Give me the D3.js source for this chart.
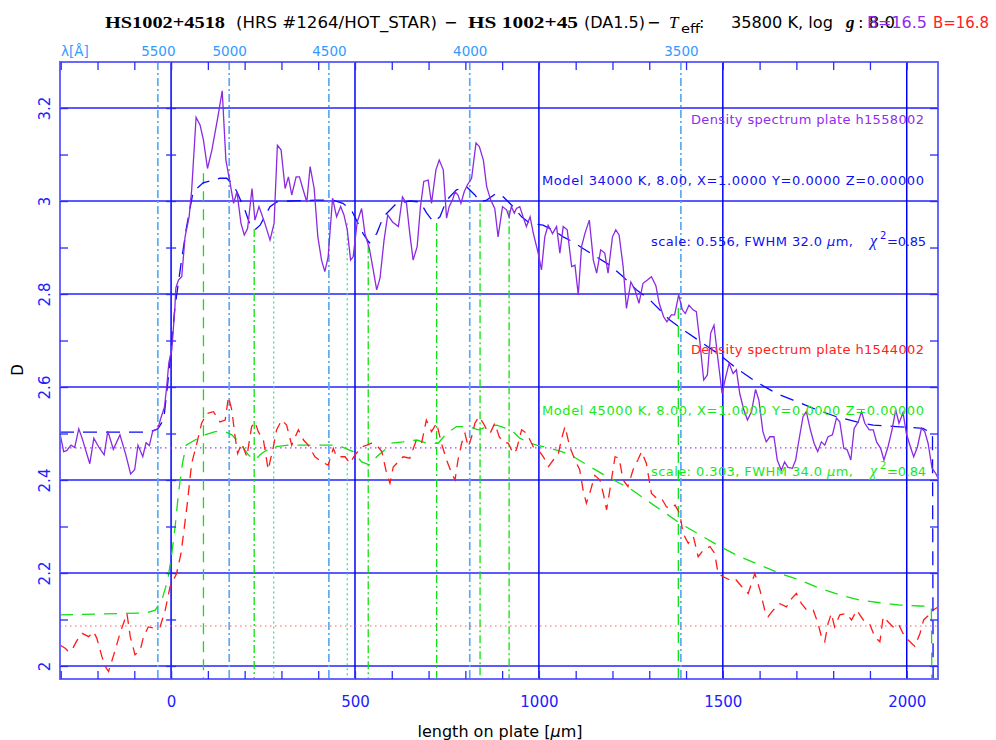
<!DOCTYPE html>
<html><head><meta charset="utf-8">
<script src="https://cdn.jsdelivr.net/npm/d3@7"></script>
<style>body{margin:0;background:#fff}svg{display:block}</style>
</head><body>
<svg id="c" width="996" height="740"></svg>
<script>
// ---------------- DATA ----------------
// Density spectrum plate h1558002 : [length on plate (µm), D]
const purpleSpec = [[-302,2.50],[-292,2.461],[-284,2.463],[-272,2.475],[-262,2.47],[-251,2.51],[-242,2.49],[-221,2.435],[-210,2.49],[-196,2.47],[-182,2.454],[-172,2.505],[-157,2.466],[-139,2.497],[-123,2.454],[-110,2.413],[-99,2.422],[-90,2.475],[-77,2.45],[-68,2.48],[-59,2.474],[-50,2.505],[-36,2.51],[-29,2.53],[-18,2.557],[-12,2.60],[-6,2.653],[2,2.68],[10,2.766],[13,2.813],[20,2.83],[29,2.837],[38,2.923],[49,2.966],[56,3.024],[68,3.18],[79,3.163],[88,3.131],[99,3.07],[111,3.11],[127,3.18],[139,3.237],[149,3.088],[159,3.045],[170,2.995],[179,3.02],[190,2.952],[199,2.927],[208,2.941],[220,3.027],[228,2.959],[239,2.988],[255,2.952],[269,2.916],[280,2.952],[289,3.12],[299,3.11],[310,3.027],[319,3.052],[328,3.013],[340,3.052],[349,3.052],[358,3.027],[369,2.998],[378,3.074],[389,3.027],[399,2.923],[409,2.873],[418,2.848],[427,2.88],[439,3.006],[450,2.966],[461,2.988],[470,2.97],[479,2.938],[488,2.873],[495,2.88],[506,2.955],[518,2.984],[527,2.93],[539,2.898],[548,2.859],[559,2.809],[568,2.834],[579,2.916],[589,2.97],[602,2.955],[618,2.945],[629,3.009],[640,2.995],[649,2.93],[658,2.873],[669,2.902],[678,2.988],[687,3.042],[699,3.045],[708,2.995],[720,3.067],[729,3.088],[740,3.067],[749,2.963],[756,2.988],[765,3.002],[772,3.02],[780,3.013],[788,2.995],[797,3.02],[805,3.034],[817,3.049],[829,3.125],[838,3.117],[849,3.088],[858,3.031],[869,3.002],[880,2.984],[889,2.923],[901,2.988],[912,2.981],[919,2.966],[925,2.988],[933,2.974],[939,2.984],[948,2.988],[957,2.966],[966,2.945],[976,2.966],[985,2.93],[998,2.888],[1007,2.852],[1016,2.923],[1025,2.948],[1037,2.93],[1048,2.945],[1057,2.888],[1066,2.945],[1077,2.938],[1089,2.859],[1098,2.862],[1107,2.798],[1116,2.902],[1125,2.93],[1137,2.959],[1148,2.873],[1157,2.845],[1168,2.895],[1179,2.888],[1188,2.845],[1200,2.923],[1209,2.938],[1218,2.927],[1229,2.859],[1238,2.769],[1250,2.826],[1261,2.809],[1272,2.78],[1283,2.823],[1295,2.83],[1306,2.837],[1318,2.818],[1327,2.78],[1339,2.751],[1348,2.74],[1360,2.755],[1369,2.755],[1380,2.798],[1390,2.766],[1398,2.758],[1408,2.776],[1419,2.766],[1428,2.762],[1437,2.701],[1448,2.615],[1458,2.626],[1467,2.716],[1476,2.733],[1487,2.658],[1498,2.586],[1508,2.622],[1517,2.651],[1528,2.629],[1537,2.637],[1546,2.586],[1557,2.551],[1567,2.529],[1578,2.547],[1589,2.595],[1598,2.572],[1609,2.504],[1618,2.482],[1628,2.493],[1639,2.493],[1648,2.443],[1659,2.421],[1668,2.439],[1677,2.427],[1689,2.425],[1698,2.443],[1707,2.486],[1718,2.536],[1727,2.547],[1738,2.508],[1748,2.479],[1758,2.461],[1768,2.482],[1777,2.475],[1786,2.493],[1798,2.497],[1809,2.533],[1818,2.525],[1829,2.468],[1838,2.465],[1848,2.443],[1857,2.511],[1868,2.525],[1877,2.547],[1886,2.522],[1898,2.508],[1909,2.508],[1918,2.482],[1929,2.468],[1938,2.443],[1949,2.471],[1960,2.508],[1970,2.551],[1979,2.522],[1990,2.545],[1999,2.50],[2010,2.471],[2019,2.45],[2029,2.471],[2040,2.511],[2049,2.504],[2058,2.479],[2069,2.425],[2079,2.414],[2085,2.404]];

// Model 34000 K fit to h1558002
const blueModel = [[-302,2.503],[-60,2.503],[-36,2.51],[-20,2.53],[-5,2.637],[10,2.768],[27,2.865],[42,2.944],[60,3.02],[87,3.039],[133,3.049],[151,3.049],[165,3.039],[179,3.02],[201,2.98],[215,2.948],[228,2.938],[242,2.948],[269,2.988],[287,2.998],[323,3.0],[394,3.002],[440,3.002],[467,2.995],[490,2.981],[522,2.93],[539,2.91],[559,2.93],[577,2.966],[613,2.995],[649,3.0],[677,2.998],[695,2.974],[713,2.955],[731,2.966],[749,3.002],[776,3.024],[803,3.031],[826,3.013],[840,2.998],[858,3.002],[885,3.017],[903,3.009],[930,2.988],[953,2.966],[976,2.952],[1011,2.948],[1038,2.938],[1066,2.923],[1093,2.912],[1120,2.898],[1156,2.88],[1193,2.862],[1229,2.837],[1265,2.809],[1302,2.787],[1356,2.744],[1387,2.726],[1433,2.701],[1492,2.669],[1537,2.64],[1591,2.611],[1646,2.586],[1691,2.572],[1746,2.554],[1809,2.536],[1864,2.525],[1909,2.518],[1972,2.515],[2044,2.511],[2070,2.50],[2072,1.90]];

// Density spectrum plate h1544002
const redSpec = [[-302,2.045],[-288,2.038],[-279,2.031],[-270,2.034],[-255,2.056],[-242,2.07],[-224,2.063],[-211,2.074],[-202,2.06],[-188,2.02],[-179,1.999],[-170,1.988],[-152,2.034],[-139,2.07],[-120,2.113],[-111,2.063],[-98,2.024],[-84,2.034],[-75,2.063],[-62,2.084],[-43,2.081],[-30,2.084],[-16,2.12],[-3,2.17],[15,2.199],[27,2.242],[43,2.342],[56,2.436],[70,2.479],[83,2.522],[97,2.543],[115,2.547],[133,2.525],[147,2.529],[156,2.579],[165,2.551],[174,2.493],[181,2.457],[192,2.479],[206,2.45],[219,2.515],[228,2.525],[237,2.504],[251,2.486],[264,2.422],[278,2.471],[287,2.508],[301,2.529],[314,2.518],[328,2.475],[346,2.508],[360,2.486],[373,2.475],[391,2.45],[409,2.439],[427,2.432],[441,2.468],[450,2.45],[473,2.45],[486,2.436],[500,2.454],[518,2.471],[532,2.475],[545,2.479],[559,2.475],[573,2.461],[586,2.414],[595,2.393],[604,2.428],[631,2.45],[649,2.447],[667,2.486],[681,2.479],[694,2.529],[708,2.504],[722,2.522],[735,2.479],[749,2.443],[763,2.414],[772,2.40],[780,2.443],[790,2.479],[799,2.50],[808,2.471],[817,2.493],[826,2.522],[837,2.536],[849,2.522],[858,2.508],[867,2.50],[880,2.522],[892,2.493],[903,2.482],[917,2.479],[930,2.457],[939,2.465],[953,2.508],[967,2.50],[985,2.471],[998,2.465],[1012,2.45],[1026,2.429],[1039,2.443],[1053,2.457],[1062,2.49],[1071,2.515],[1084,2.471],[1098,2.443],[1111,2.422],[1120,2.379],[1129,2.35],[1138,2.371],[1152,2.41],[1166,2.40],[1175,2.371],[1184,2.336],[1193,2.379],[1207,2.45],[1218,2.447],[1229,2.40],[1242,2.386],[1256,2.422],[1269,2.443],[1279,2.461],[1292,2.436],[1306,2.371],[1320,2.361],[1333,2.361],[1347,2.342],[1360,2.339],[1370,2.346],[1383,2.328],[1392,2.285],[1406,2.264],[1420,2.278],[1433,2.235],[1447,2.249],[1465,2.257],[1478,2.242],[1487,2.199],[1501,2.192],[1519,2.185],[1533,2.188],[1551,2.171],[1569,2.156],[1587,2.199],[1601,2.163],[1614,2.12],[1623,2.106],[1637,2.12],[1655,2.134],[1673,2.127],[1687,2.145],[1700,2.156],[1714,2.134],[1728,2.12],[1746,2.12],[1759,2.091],[1768,2.063],[1777,2.052],[1786,2.091],[1795,2.113],[1804,2.084],[1818,2.11],[1836,2.113],[1850,2.099],[1864,2.12],[1882,2.099],[1899,2.091],[1913,2.063],[1927,2.052],[1936,2.106],[1949,2.095],[1963,2.084],[1977,2.091],[1990,2.07],[2004,2.056],[2022,2.042],[2036,2.07],[2046,2.099],[2061,2.11],[2071,2.12],[2085,2.127]];

// Model 45000 K fit to h1544002
const greenModel = [[-302,2.11],[-70,2.114],[-43,2.12],[-25,2.142],[-9,2.185],[2,2.242],[11,2.30],[20,2.371],[31,2.436],[41,2.475],[65,2.486],[92,2.497],[120,2.504],[147,2.504],[165,2.497],[188,2.479],[210,2.454],[228,2.443],[246,2.457],[273,2.471],[319,2.475],[373,2.475],[437,2.475],[464,2.471],[495,2.461],[518,2.439],[541,2.432],[559,2.45],[581,2.465],[597,2.479],[631,2.482],[668,2.486],[695,2.479],[726,2.479],[749,2.50],[776,2.515],[808,2.515],[835,2.508],[862,2.515],[885,2.518],[912,2.511],[930,2.504],[948,2.49],[976,2.479],[994,2.475],[1030,2.468],[1062,2.461],[1094,2.45],[1138,2.429],[1193,2.404],[1247,2.382],[1292,2.357],[1338,2.332],[1383,2.307],[1438,2.282],[1492,2.257],[1546,2.235],[1601,2.217],[1655,2.199],[1709,2.185],[1764,2.167],[1818,2.153],[1872,2.142],[1927,2.136],[1981,2.131],[2035,2.129],[2067,2.128],[2069,1.90]];

// continuum levels (dotted)
const purpleLevel = 2.469;
const redLevel = 2.086;

// top wavelength axis: labels and their position on the plate (µm)
const waveLabels = ["5500","5000","4500","4000","3500"];
const wavePos = [-36, 158, 429, 812, 1386];

// model line markers (µm), upper end (D) and line kind
const markX   = [88, 226, 279, 479, 536, 722, 840, 919, 1379];
const markTop = [3.06, 2.94, 2.945, 2.952, 2.905, 2.953, 2.995, 2.98, 2.77];
const markKind = ["dash","dashdot","dot","dot","dashdot","dashdot","dashdot","dashdot","dash"];

const xMajor = [0, 500, 1000, 1500, 2000];
const yMajor = [2, 2.2, 2.4, 2.6, 2.8, 3, 3.2];

// ---------------- DRAW ----------------
const svg = d3.select("#c");
const L = 60, R = 938, T = 62, B = 679;
const x = d3.scaleLinear().domain([-302, 2085]).range([L, R]);
const y = d3.scaleLinear().domain([1.972, 3.299]).range([B, T]);

svg.append("rect").attr("width",996).attr("height",740).attr("fill","#fff");
svg.append("clipPath").attr("id","pc").append("rect")
  .attr("x",L).attr("y",T).attr("width",R-L).attr("height",B-T);

const sans = "'DejaVu Sans', Verdana, sans-serif";
const serif = "'Liberation Serif', 'DejaVu Serif', serif";

// grid
svg.append("g").selectAll("line").data(yMajor).join("line")
  .attr("x1",L).attr("x2",R).attr("y1",d=>y(d)).attr("y2",d=>y(d))
  .attr("stroke","#5a5aff").attr("stroke-width",2);
svg.append("g").selectAll("line").data(xMajor).join("line")
  .attr("x1",d=>x(d)).attr("x2",d=>x(d)).attr("y1",T).attr("y2",B)
  .attr("stroke","#0000ff").attr("stroke-width",1.5);

// wavelength dash-dot lines
svg.append("g").selectAll("line").data(wavePos).join("line")
  .attr("x1",d=>x(d)).attr("x2",d=>x(d)).attr("y1",T).attr("y2",B)
  .attr("stroke","#5aaaf5").attr("stroke-width",1.7)
  .attr("stroke-dasharray","8,3,2,3");

// model line markers
const kindDash = {dash:"11,7", dashdot:"8,3,2,3", dot:"2,3"};
svg.append("g").selectAll("line").data(markX).join("line")
  .attr("x1",d=>x(d)).attr("x2",d=>x(d))
  .attr("y1",(d,i)=>y(markTop[i])).attr("y2",B)
  .attr("stroke",(d,i)=>markKind[i]==="dot" ? "#30e890" : "#10e010")
  .attr("stroke-width",1.3)
  .attr("stroke-dasharray",(d,i)=>kindDash[markKind[i]]);

// continuum levels
svg.append("line").attr("x1",L).attr("x2",R).attr("y1",y(purpleLevel)).attr("y2",y(purpleLevel))
  .attr("stroke","#a040ff").attr("stroke-width",1.2).attr("stroke-dasharray","1.5,3.5");
svg.append("line").attr("x1",L).attr("x2",R).attr("y1",y(redLevel)).attr("y2",y(redLevel))
  .attr("stroke","#ff6060").attr("stroke-width",1.2).attr("stroke-dasharray","1.5,3.5");

// data lines
const line = d3.line().x(d=>x(d[0])).y(d=>y(d[1]));
const gd = svg.append("g").attr("clip-path","url(#pc)");
gd.append("path").datum(greenModel).attr("d",line).attr("fill","none")
  .attr("stroke","#11e011").attr("stroke-width",1.3).attr("stroke-dasharray","13,9");
gd.append("path").datum(redSpec).attr("d",line).attr("fill","none")
  .attr("stroke","#ff1a1a").attr("stroke-width",1.3).attr("stroke-dasharray","10,7");
gd.append("path").datum(blueModel).attr("d",line).attr("fill","none")
  .attr("stroke","#0a0aff").attr("stroke-width",1.3).attr("stroke-dasharray","14,9");
gd.append("path").datum(purpleSpec).attr("d",line).attr("fill","none")
  .attr("stroke","#8a2be2").attr("stroke-width",1.3);

// frame
svg.append("rect").attr("x",L).attr("y",T).attr("width",R-L).attr("height",B-T)
  .attr("fill","none").attr("stroke","#6868ff").attr("stroke-width",2);

// minor ticks
const xMinor = d3.range(-300, 2001, 100);
const yMinor = d3.range(20, 33).map(v=>v/10);
const clean = g => { g.select(".domain").remove(); g.selectAll("line").attr("stroke","#2a2aff").attr("stroke-width",1.3); };
svg.append("g").attr("transform",`translate(0,${B})`)
  .call(d3.axisBottom(x).tickValues(xMinor).tickSize(-8).tickFormat("")).call(clean);
svg.append("g").attr("transform",`translate(0,${T})`)
  .call(d3.axisTop(x).tickValues(xMinor).tickSize(-8).tickFormat("")).call(clean);
svg.append("g").attr("transform",`translate(${L},0)`)
  .call(d3.axisLeft(y).tickValues(yMinor).tickSize(-8).tickFormat("")).call(clean);
svg.append("g").attr("transform",`translate(${R},0)`)
  .call(d3.axisRight(y).tickValues(yMinor).tickSize(-8).tickFormat("")).call(clean);
svg.append("g").attr("transform",`translate(${x(0)+5},0)`)
  .call(d3.axisLeft(y).tickValues(yMinor).tickSize(10).tickFormat("")).call(clean);

// bottom labels
const gb = svg.append("g").attr("transform",`translate(0,${B})`)
  .call(d3.axisBottom(x).tickValues(xMajor).tickSize(0).tickPadding(17).tickFormat(d3.format("d")));
gb.select(".domain").remove();
gb.selectAll("text").attr("fill","#2020ff").attr("font-family",sans).attr("font-size",15);

// left labels (rotated)
const gl = svg.append("g").attr("transform",`translate(${L},0)`)
  .call(d3.axisLeft(y).tickValues(yMajor).tickSize(0).tickFormat(d3.format("~g")));
gl.select(".domain").remove();
gl.selectAll("text").attr("x",0).attr("dy",0).attr("text-anchor","middle")
  .attr("transform","translate(-10,0) rotate(-90)")
  .attr("fill","#2020ff").attr("font-family",sans).attr("font-size",15);

// top wavelength labels
const gt = svg.append("g").attr("transform",`translate(0,${T})`)
  .call(d3.axisTop(x).tickValues(wavePos).tickSize(0).tickPadding(6).tickFormat((d,i)=>waveLabels[i]));
gt.select(".domain").remove();
gt.selectAll("text").attr("fill","#3399ff").attr("font-family",sans).attr("font-size",13.5);
svg.append("text").attr("x",61).attr("y",56).attr("fill","#3399ff")
  .attr("font-family",sans).attr("font-size",13.5).text("λ[Å]");

// axis titles
svg.append("text").attr("transform","translate(23,370) rotate(-90)").attr("text-anchor","middle")
  .attr("font-family",sans).attr("font-size",15).attr("fill","#000").text("D");
svg.append("text").attr("x",500).attr("y",737).attr("text-anchor","middle")
  .attr("font-family",sans).attr("font-size",16).attr("fill","#000")
  .html("length on plate [<tspan font-style='italic'>µ</tspan>m]");

// annotations
function ann(str, x0, yb, w, col){
  return svg.append("text").attr("x",x0).attr("y",yb).attr("fill",col)
    .attr("font-family",sans).attr("font-size",13)
    .attr("textLength",w).attr("lengthAdjust","spacing").text(str);
}
function scaleTxt(yb, col, pre){
  const t = svg.append("text").attr("x",651).attr("y",yb).attr("fill",col)
    .attr("font-family",sans).attr("font-size",13).attr("textLength",202).attr("lengthAdjust","spacing");
  t.append("tspan").text(pre);
  t.append("tspan").attr("font-style","italic").text("µ");
  t.append("tspan").text("m,");
}
function chi(yb, col, val){
  svg.append("text").attr("x",870).attr("y",yb).attr("fill",col)
    .attr("font-family",serif).attr("font-style","italic").attr("font-size",16).text("χ");
  svg.append("text").attr("x",880).attr("y",yb-7).attr("fill",col)
    .attr("font-family",sans).attr("font-size",10).text("2");
  ann("=" + val, 887, yb, 39, col);
}
ann("Density spectrum plate h1558002", 691, 124, 233, "#8f2cf0");
ann("Model 34000 K, 8.00, X=1.0000 Y=0.0000 Z=0.00000", 542, 185, 382, "#1010f0");
scaleTxt(246, "#1010f0", "scale: 0.556, FWHM 32.0 ");
chi(246, "#1010f0", "0.85");
ann("Density spectrum plate h1544002", 691, 354, 233, "#ff2020");
ann("Model 45000 K, 8.00, X=1.0000 Y=0.0000 Z=0.00000", 542, 415, 382, "#18e818");
scaleTxt(476, "#18e818", "scale: 0.303, FWHM 34.0 ");
chi(476, "#18e818", "0.84");

// title
function tt(str, x0, w, opt){
  const t = svg.append("text").attr("x",x0).attr("y",opt.y||28).attr("fill",opt.col||"#000")
    .attr("font-family",opt.ff||sans).attr("font-size",opt.fs||16)
    .attr("font-weight",opt.fw||"normal").attr("font-style",opt.fst||"normal").text(str);
  if (w) t.attr("textLength",w).attr("lengthAdjust","spacingAndGlyphs");
}
tt("HS1002+4518", 105, 120, {ff:serif, fw:"bold", fs:17});
tt("(HRS #1264/HOT_STAR)", 236, 201, {});
tt("−", 444, 0, {});
tt("HS 1002+45", 468, 110, {ff:serif, fw:"bold", fs:17});
tt("(DA1.5)", 584, 61, {});
tt("−", 647, 0, {});
tt("T", 669, 0, {ff:serif, fst:"italic", fs:17});
tt("eff", 681, 19, {fs:12, y:33});
tt(":", 699, 0, {});
tt("35800 K, log", 731, 102, {});
tt("g", 846, 0, {ff:serif, fst:"italic", fw:"bold", fs:17});
tt(": 8.0", 858, 37, {});
tt("B=16.5", 867, 60, {col:"#8f2cf0"});
tt("B=16.8", 933, 56, {col:"#ff2020"});
</script>
</body></html>
